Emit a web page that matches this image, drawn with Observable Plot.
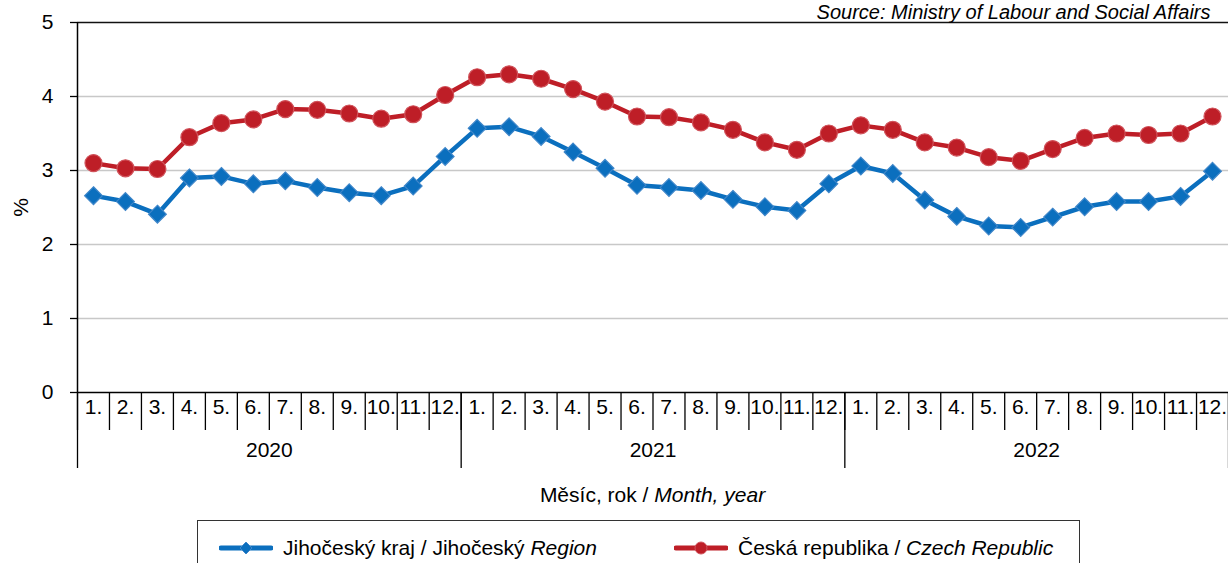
<!DOCTYPE html>
<html>
<head>
<meta charset="utf-8">
<script src="https://cdn.jsdelivr.net/npm/d3@7"></script>
<script src="https://cdn.jsdelivr.net/npm/@observablehq/plot@0.6"></script>
<style>
  html, body { margin: 0; padding: 0; background: #fff; }
  body { position: relative; width: 1228px; height: 563px; overflow: hidden; font-family: "Liberation Sans", Arial, sans-serif; color: #000; }
  #chart { position: absolute; left: 0; top: 0; }
  #xtitle { position: absolute; left: 77px; width: 1151px; top: 483px; line-height: 24px; font-size: 21px; text-align: center; }
  #legend { position: absolute; left: 197px; top: 520px; width: 883px; height: 60px; border: 1.5px solid #333; box-sizing: border-box; }
  .item { position: absolute; top: 14px; height: 26px; display: flex; align-items: center; font-size: 21px; white-space: nowrap; }
  .item svg { margin-right: 10px; }
</style>
</head>
<body>
<div id="chart"></div>
<div id="xtitle">Měsíc, rok / <i>Month, year</i></div>
<div id="legend"></div>
<script>
const months = ["1.","2.","3.","4.","5.","6.","7.","8.","9.","10.","11.","12."];
const years = ["2020","2021","2022"];
const jihocesky = [2.66,2.58,2.41,2.90,2.92,2.82,2.86,2.77,2.70,2.66,2.79,3.19,
  3.57,3.59,3.46,3.25,3.03,2.80,2.77,2.73,2.61,2.51,2.46,2.82,
  3.06,2.96,2.60,2.38,2.25,2.23,2.37,2.51,2.58,2.58,2.65,2.99];
const ceskaRepublika = [3.10,3.03,3.02,3.45,3.64,3.69,3.83,3.82,3.77,3.70,3.76,4.02,
  4.26,4.30,4.24,4.10,3.93,3.73,3.72,3.65,3.55,3.38,3.28,3.50,
  3.61,3.55,3.38,3.31,3.18,3.13,3.29,3.44,3.50,3.48,3.50,3.73];
const yTicks = [0,1,2,3,4,5];
const seriesNames = ["Jihočeský kraj / Jihočeský ", "Česká republika / "];
const seriesItalic = ["Region", "Czech Republic"];
const source = "Source: Ministry of Labour and Social Affairs";

const BLUE = "#0b6fbe", BLUE_EDGE = "#3f86c9";
const RED = "#be1e27", RED_EDGE = "#d0525a";

const periods = [];
years.forEach((y, yi) => months.forEach((m, mi) => periods.push({i: yi * 12 + mi, month: m, year: y})));
const jData = periods.map((p, k) => ({...p, v: jihocesky[k]}));
const cData = periods.map((p, k) => ({...p, v: ceskaRepublika[k]}));
const boundaries = d3.range(0, periods.length + 1);
const yearBoundaries = d3.range(0, periods.length + 1, 12);
const yearRows = years.map((y, yi) => ({year: y, mid: yi * 12 + 6}));

const H = 480, MT = 22, MB = 88;
const frameH = H - MT - MB;

const chart = Plot.plot({
  width: 1228,
  height: H,
  marginLeft: 77,
  marginRight: 0,
  marginTop: MT,
  marginBottom: MB,
  style: {fontFamily: "'Liberation Sans', Arial, sans-serif", fontSize: "21px", color: "#000", background: "#fff", overflow: "visible"},
  x: {domain: [0, periods.length], axis: null},
  y: {domain: [0, 5], axis: null},
  marks: [
    Plot.ruleY(yTicks.filter(t => t > 0 && t < 5), {stroke: "#c8c8c8", strokeWidth: 1.3}),
    Plot.ruleY([5], {stroke: "#111", strokeWidth: 1.6}),
    Plot.axisY({ticks: yTicks, tickFormat: d3.format("d"), tickSize: 7, tickPadding: 17, fontSize: 21, stroke: "#000", strokeWidth: 1.3,
      label: "%", labelAnchor: "center", labelArrow: "none", labelOffset: 64}),
    Plot.ruleX([0], {stroke: "#000", strokeWidth: 1.5}),
    Plot.ruleY([0], {stroke: "#000", strokeWidth: 1.5}),
    Plot.ruleX(boundaries, {x: d => d, stroke: "#000", strokeWidth: 1.3, insetTop: frameH, insetBottom: -38}),
    Plot.ruleX(yearBoundaries, {x: d => d, stroke: "#000", strokeWidth: 1.3, insetTop: frameH, insetBottom: -76}),
    Plot.text(periods, {x: d => d.i + 0.5, text: "month", frameAnchor: "bottom", dy: 21, fontSize: 21}),
    Plot.text(yearRows, {x: "mid", text: "year", frameAnchor: "bottom", dy: 64, fontSize: 21}),
    Plot.line(cData, {x: d => d.i + 0.5, y: "v", stroke: RED, strokeWidth: 4.5}),
    Plot.line(jData, {x: d => d.i + 0.5, y: "v", stroke: BLUE, strokeWidth: 4.5}),
    Plot.dot(cData, {x: d => d.i + 0.5, y: "v", r: 8.5, fill: RED, stroke: RED_EDGE, strokeWidth: 1.2}),
    Plot.dot(jData, {x: d => d.i + 0.5, y: "v", symbol: "diamond2", r: 8, fill: BLUE, stroke: BLUE_EDGE, strokeWidth: 1.2}),
    Plot.text([source], {frameAnchor: "top-right", dx: -18, dy: -4, lineAnchor: "bottom", fontStyle: "italic", fontSize: 20})
  ]
});
document.getElementById("chart").appendChild(chart);

// legend
const legend = document.getElementById("legend");
const legendDefs = [
  {name: seriesNames[0], it: seriesItalic[0], color: BLUE, edge: BLUE_EDGE, shape: "diamond", left: 21},
  {name: seriesNames[1], it: seriesItalic[1], color: RED, edge: RED_EDGE, shape: "circle", left: 476}
];
legendDefs.forEach(d => {
  const item = document.createElement("div");
  item.className = "item";
  item.style.left = d.left + "px";
  const sw = d3.create("svg").attr("width", 54).attr("height", 14);
  sw.append("line").attr("x1", 2).attr("x2", 52).attr("y1", 7).attr("y2", 7)
    .attr("stroke", d.color).attr("stroke-width", 5).attr("stroke-linecap", "round");
  if (d.shape === "circle") {
    sw.append("circle").attr("cx", 27).attr("cy", 7).attr("r", 6).attr("fill", d.color).attr("stroke", d.edge);
  } else {
    sw.append("path").attr("d", "M27,1L33,7L27,13L21,7Z").attr("fill", d.color).attr("stroke", d.edge);
  }
  item.appendChild(sw.node());
  const t = document.createElement("span");
  t.innerHTML = d.name.replace(/ $/, "&nbsp;") + "<i>" + d.it + "</i>";
  item.appendChild(t);
  legend.appendChild(item);
});
</script>
</body>
</html>
